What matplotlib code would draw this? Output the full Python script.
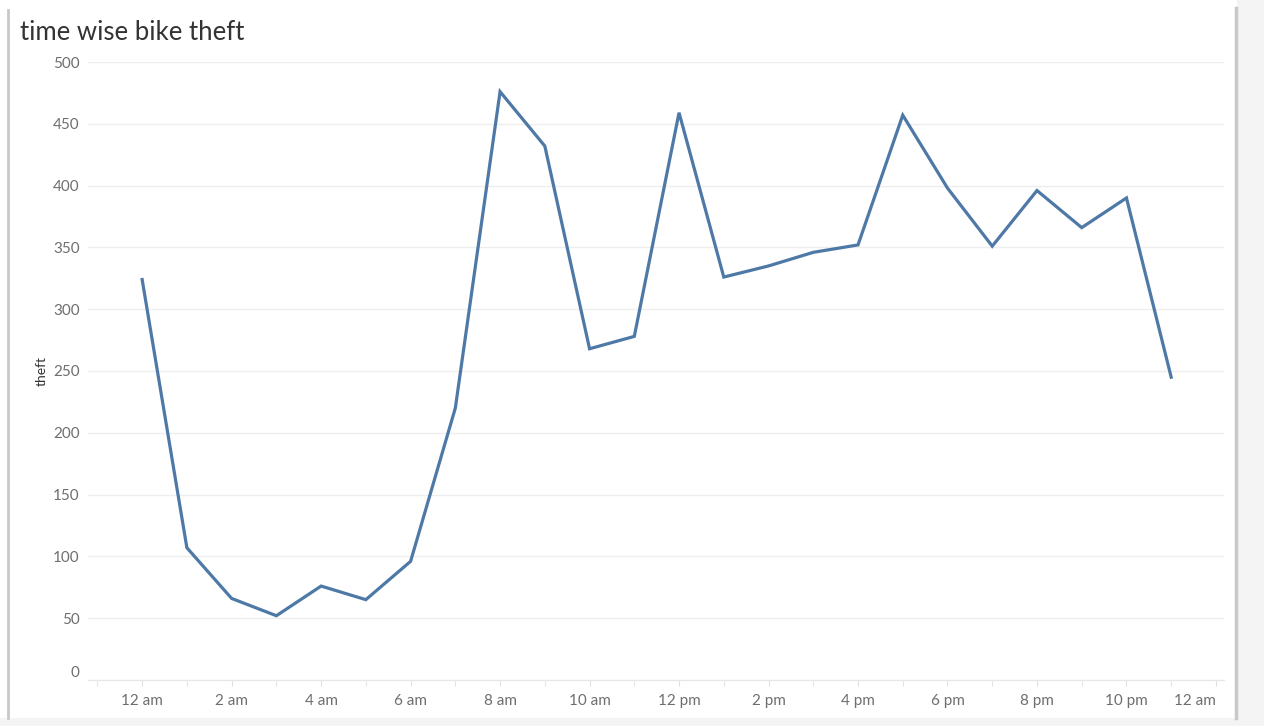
import matplotlib.pyplot as plt
from matplotlib.patches import Rectangle
from matplotlib.lines import Line2D
from matplotlib.ticker import MultipleLocator

# hourly theft counts, 0 = 12 am
hours = list(range(24))
theft = [324, 107, 66, 52, 76, 65, 96, 220, 476, 432, 268, 278,
         459, 326, 335, 346, 352, 457, 398, 351, 396, 366, 390, 245]
tick_hours = [0, 2, 4, 6, 8, 10, 12, 14, 16, 18, 20, 22, 24]
tick_labels = ['12 am', '2 am', '4 am', '6 am', '8 am', '10 am', '12 pm',
               '2 pm', '4 pm', '6 pm', '8 pm', '10 pm', '12 am']

plt.rcParams['font.family'] = ['Lato', 'DejaVu Sans']

W, H = 1264, 726
fig = plt.figure(figsize=(W / 100, H / 100), dpi=100)

# dashboard frame
fig.patches.append(Rectangle((1237 / W, 0), 1 - 1237 / W, 1, transform=fig.transFigure,
                             facecolor='#f4f4f4', edgecolor='none', zorder=0))
fig.patches.append(Rectangle((0, 0), 1, 1 - 718 / H, transform=fig.transFigure,
                             facecolor='#f4f4f4', edgecolor='none', zorder=0))
fig.lines.append(Line2D([7.5 / W, 7.5 / W], [1 - 718 / H, 1 - 10 / H], transform=fig.transFigure,
                        color='#c8c8c8', lw=2))
fig.lines.append(Line2D([1236 / W, 1236 / W], [1 - 718 / H, 1 - 8 / H], transform=fig.transFigure,
                        color='#c8c8c8', lw=2.5))

ax = fig.add_axes([88 / W, 1 - 680 / H, (1224 - 88) / W, (680 - 62) / H])
ax.plot(hours, theft, color='#4e79a7', lw=2.3, solid_joinstyle='miter', zorder=3)

ax.set_xlim(-1.21, 24.18)
ax.set_ylim(0, 500)
ax.set_xticks(tick_hours)
ax.set_xticklabels(tick_labels)
ax.xaxis.set_minor_locator(MultipleLocator(1))
ax.set_yticks(range(0, 501, 50))

# end labels are pulled inside the axis
ax.get_xticklabels()[-1].set_ha('right')
ax.get_yticklabels()[0].set_va('bottom')

ax.grid(axis='y', color='#eeeeee', lw=1)
ax.set_axisbelow(True)
for s in ['top', 'right', 'left']:
    ax.spines[s].set_visible(False)
ax.spines['bottom'].set_color('#e6e6e6')

ax.tick_params(axis='x', which='both', colors='#e0e0e0', labelcolor='#6e6e6e',
               labelsize=11, length=4, pad=6)
ax.tick_params(axis='y', length=0, labelcolor='#6e6e6e', labelsize=11, pad=6)

ax.set_ylabel('theft', color='#333333', fontsize=10, labelpad=4)

fig.text(20 / W, 1 - 33 / H, 'time wise bike theft', fontsize=18.5, color='#333333',
         va='center', ha='left')

fig.savefig('out.png', dpi=100, facecolor='white')
